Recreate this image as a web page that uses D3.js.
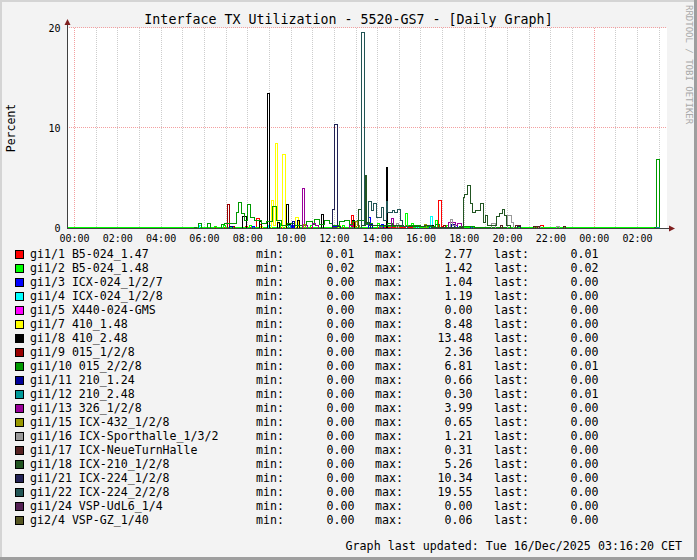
<!DOCTYPE html>
<html><head><meta charset="utf-8">
<script src="https://cdn.jsdelivr.net/npm/d3@7/dist/d3.min.js"></script>
<style>
body{margin:0;background:#f3f3f3}
svg{display:block}
text{font-family:"DejaVu Sans Mono",monospace;fill:#000}
</style>
</head><body>
<svg id="c" width="697" height="560"></svg>
<script>
// ---------------- DATA ----------------
const title = "Interface TX Utilization - 5520-GS7 - [Daily Graph]";
const yLabel = "Percent";
const footer = "Graph last updated: Tue 16/Dec/2025 03:16:20 CET";
const watermark = "RRDTOOL / TOBI OETIKER";

// hours since 00:00 of 15/Dec
const timeStart = -0.323, timeEnd = 27.385, dataEnd = 27.05;
const xTickHours = [0,2,4,6,8,10,12,14,16,18,20,22,24,26];
const xMinorHours = d3.range(0, 28, 1);
const xMajorHours = [0, 24];
const yTicks = [0, 10, 20];

const names = ["gi1/1 B5-024_1.47","gi1/2 B5-024_1.48","gi1/3 ICX-024_1/2/7","gi1/4 ICX-024_1/2/8",
  "gi1/5 X440-024-GMS","gi1/7 410_1.48","gi1/8 410_2.48","gi1/9 015_1/2/8","gi1/10 015_2/2/8",
  "gi1/11 210_1.24","gi1/12 210_2.48","gi1/13 326_1/2/8","gi1/15 ICX-432_1/2/8",
  "gi1/16 ICX-Sporthalle_1/3/2","gi1/17 ICX-NeueTurnHalle","gi1/18 ICX-210_1/2/8",
  "gi1/21 ICX-224_1/2/8","gi1/22 ICX-224_2/2/8","gi1/24 VSP-UdL6_1/4","gi2/4 VSP-GZ_1/40"];
const mins  = [0.01,0.02,0,0,0,0,0,0,0,0,0,0,0,0,0,0,0,0,0,0];
const maxs  = [2.77,1.42,1.04,1.19,0.00,8.48,13.48,2.36,6.81,0.66,0.30,3.99,0.65,1.21,0.31,5.26,10.34,19.55,0.00,0.06];
const lasts = [0.01,0.02,0,0,0,0,0,0,0.01,0,0.01,0,0,0,0,0,0,0,0,0];

// series: [hour, value] change points (step after)
const gi1_1 = [[-0.32,0.01],[7.9,0.2],[8.0,0.01],[8.45,1.0],[8.58,0.4],[8.68,0.01],[12.83,1.3],[12.92,0.2],[13.05,0.01],[15.3,0.3],[15.4,0.01],[16.85,2.77],[16.95,0.2],[17.05,0.01],[21.55,0.3],[21.7,0.1],[21.8,0.01]];
const gi1_2 = [[-0.32,0.02],[6.5,0.2],[6.6,0.02],[6.9,0.3],[7.0,0.02],[8.1,0.3],[8.2,0.02],[9.55,0.5],[9.65,0.02],[10.9,0.3],[11.0,0.02],[12.4,0.3],[12.5,0.02],[14.0,0.5],[14.1,0.2],[15.3,1.42],[15.4,0.3],[15.6,0.5],[15.7,0.02],[16.7,0.8],[16.8,0.02],[17.2,0.3],[17.3,0.02]];
const gi1_3 = [[-0.32,0],[8.25,0.2],[8.35,0],[10.05,0.3],[10.15,0],[12.0,0.2],[12.1,0],[13.62,1.04],[13.7,0],[14.2,0.4],[14.3,0],[16.4,0.3],[16.5,0],[17.6,0.3],[17.7,0],[18.3,0.2],[18.4,0]];
const gi1_4 = [[-0.32,0],[5.8,0.3],[5.9,0],[9.0,0.3],[9.1,0],[15.8,0.2],[15.9,0],[16.45,1.19],[16.55,0.2],[16.65,0]];
const gi1_5 = [[-0.32,0]];
const gi1_7 = [[-0.32,0],[8.6,0.2],[8.7,0],[9.14,2.8],[9.23,0.3],[9.32,8.48],[9.41,0.5],[9.5,0],[9.64,7.4],[9.77,0],[10.25,1.1],[10.35,0],[12.2,0.3],[12.3,0]];
const gi1_8 = [[-0.32,0],[7.8,1.2],[7.95,0],[8.55,0.7],[8.65,0],[8.95,13.48],[9.05,0],[9.4,0.6],[9.5,0],[9.8,2.4],[9.9,0.4],[10.0,0],[10.3,0.8],[10.4,0],[11.44,1.4],[11.54,0],[12.87,0.8],[12.97,0],[14.41,6.1],[14.5,0],[16.5,0.3],[16.6,0]];
const gi1_9 = [[-0.32,0],[7.1,2.36],[7.2,0.2],[7.4,0],[17.05,0.3],[17.15,0],[21.3,0.2],[21.4,0]];
const gi1_10 = [[-0.32,0],[5.55,0.1],[5.65,0],[5.77,0.5],[5.87,0],[6.18,0.5],[6.32,0],[6.83,0.4],[6.97,0.5],[7.52,1.6],[7.61,2.6],[7.75,1.5],[7.89,0.8],[8.03,2.4],[8.17,1.1],[8.35,0.8],[8.68,0.5],[8.91,0.7],[9.18,2.2],[9.37,0.8],[9.6,0.3],[9.88,0.5],[10.2,0.3],[10.75,0.7],[11.03,0.4],[11.12,0.9],[11.35,0.4],[11.58,0.8],[11.81,0.5],[11.95,0.3],[12.28,0.7],[12.51,0.8],[12.74,0.4],[12.87,0.7],[13.11,0.8],[13.43,0.5],[13.8,0.3],[14.5,0.5],[14.7,0.2],[15.5,0.3],[16.0,0.2],[16.7,0.4],[16.9,0.1],[17.8,0.2],[18.5,0.1],[20.0,0],[26.8,0.1],[26.9,6.81],[27.04,0.01]];
const gi1_11 = [[-0.32,0],[7.2,0.2],[7.3,0],[10.1,0.66],[10.2,0],[13.7,0.4],[13.8,0],[17.45,0.4],[17.55,0]];
const gi1_12 = [[-0.32,0],[9.9,0.3],[10.0,0],[14.1,0.2],[14.2,0],[26.9,0.01]];
const gi1_13 = [[-0.32,0],[10.55,3.99],[10.65,0.3],[10.8,0],[11.0,0.5],[11.15,0.3],[11.3,0],[12.7,0.3],[12.85,0],[14.65,1.0],[14.75,0.3],[15.0,0],[17.3,0.6],[17.6,0.3],[17.7,0.5],[17.9,0]];
const gi1_15 = [[-0.32,0],[10.6,0.4],[10.7,0],[13.0,0.65],[13.1,0.3],[13.2,0],[14.9,0.5],[15.0,0],[16.2,0.4],[16.3,0]];
const gi1_16 = [[-0.32,0],[14.9,0.5],[15.0,0],[17.4,0.9],[17.5,0.3],[17.6,0],[19.3,0.5],[19.45,0],[20.0,1.21],[20.2,0.6],[20.3,0],[21.45,0.2],[21.55,0],[22.3,0.2],[22.4,0]];
const gi1_17 = [[-0.32,0],[19.7,0.3],[19.8,0],[20.4,0.3],[20.6,0],[21.2,0.2],[21.5,0],[22.6,0.2],[22.7,0]];
const gi1_18 = [[-0.32,0],[13.15,1.9],[13.3,0.3],[13.44,5.26],[13.53,0.6],[13.65,0.3],[15.2,0.2],[16.2,0.3],[16.5,0.1],[18.0,3.1],[18.05,3.4],[18.15,4.3],[18.3,2.5],[18.4,1.6],[18.55,1.8],[18.75,2.5],[18.9,0.6],[19.0,1.3],[19.1,0.3],[19.5,1.2],[19.65,1.5],[19.8,1.9],[19.9,1.3],[19.98,0.3],[20.15,0]];
const gi1_21 = [[-0.32,0],[11.95,1.9],[12.05,10.34],[12.15,0.2],[12.3,0],[20.5,0.2],[20.6,0]];
const gi1_22 = [[-0.32,0],[13.3,19.55],[13.4,0.4],[13.58,2.7],[13.72,1.8],[13.85,2.5],[13.99,1.1],[14.18,2.1],[14.27,0.8],[14.41,2.7],[14.5,1.6],[14.69,1.8],[14.82,1.6],[14.92,1.9],[15.06,0.8],[15.15,0.2],[15.4,0]];
const gi1_24 = [[-0.32,0]];
const gi2_4 = [[-0.32,0],[12.0,0.06],[12.1,0]];

const seriesData = [gi1_1,gi1_2,gi1_3,gi1_4,gi1_5,gi1_7,gi1_8,gi1_9,gi1_10,gi1_11,gi1_12,gi1_13,gi1_15,gi1_16,gi1_17,gi1_18,gi1_21,gi1_22,gi1_24,gi2_4];

// ---------------- STYLE ----------------
const colors = ["#ff0000","#00ff00","#0000ff","#00ffff","#ff00ff","#ffff00","#000000","#990000","#009900",
  "#000099","#009999","#990099","#999900","#999999","#552222","#225522","#222255","#225555","#552255","#555522"];

const W = 697, H = 560;
const plot = {l:67, r:667, t:28, b:228};

const svg = d3.select("#c");
svg.append("rect").attr("width",W).attr("height",H).attr("fill","#f3f3f3");
// 3D frame
svg.append("path").attr("d",`M0,0H${W}V2H2V${H}H0Z`).attr("fill","#d4d4d4");
svg.append("path").attr("d",`M${W},0V${H}H0V${H-3}H${W-3}V0Z`).attr("fill","#9e9e9e");

const x = d3.scaleLinear().domain([timeStart,timeEnd]).range([plot.l,plot.r]);
const y = d3.scaleLinear().domain([0,20]).range([plot.b,plot.t]);

svg.append("rect").attr("x",plot.l).attr("y",plot.t).attr("width",plot.r-plot.l).attr("height",plot.b-plot.t).attr("fill","#fff");

const snap = v => Math.round(v) + 0.5;
const grid = svg.append("g").attr("shape-rendering","crispEdges");
grid.selectAll("line.vmin").data(xMinorHours.filter(h => !xMajorHours.includes(h))).join("line")
  .attr("x1",d=>snap(x(d))).attr("x2",d=>snap(x(d))).attr("y1",plot.t).attr("y2",plot.b)
  .attr("stroke","#cdcdcd").attr("stroke-dasharray","1,1");
grid.selectAll("line.vmaj").data(xMajorHours).join("line")
  .attr("x1",d=>snap(x(d))).attr("x2",d=>snap(x(d))).attr("y1",plot.t).attr("y2",plot.b)
  .attr("stroke","#f3a0a0").attr("stroke-dasharray","1,1");
grid.selectAll("line.hmaj").data(yTicks.filter(d=>d>0)).join("line")
  .attr("x1",plot.l).attr("x2",plot.r).attr("y1",d=>snap(y(d))-1).attr("y2",d=>snap(y(d))-1)
  .attr("stroke","#f3a0a0").attr("stroke-dasharray","1,1");

// series lines
const line = d3.line().x(d=>x(d[0])).y(d=>y(d[1])).curve(d3.curveStepAfter);
const lines = svg.append("g").attr("fill","none").attr("shape-rendering","crispEdges");
seriesData.forEach((s,i) => {
  const pts = s.slice();
  pts.push([dataEnd, pts[pts.length-1][1]]);
  lines.append("path").attr("d", line(pts)).attr("stroke", colors[i]).attr("stroke-width",1);
});

// axes
const ax = svg.append("g");
ax.append("line").attr("x1",plot.l+0.5).attr("x2",plot.l+0.5).attr("y1",plot.b).attr("y2",plot.t-6)
  .attr("stroke","#404040").attr("shape-rendering","crispEdges");
ax.append("line").attr("x1",plot.l).attr("x2",plot.r+4).attr("y1",plot.b+0.5).attr("y2",plot.b+0.5)
  .attr("stroke","#404040").attr("shape-rendering","crispEdges");
ax.append("path").attr("d",`M${plot.l+0.5},${plot.t-9}L${plot.l-2.5},${plot.t-3}L${plot.l+3.5},${plot.t-3}Z`).attr("fill","#7f1f1f");
ax.append("path").attr("d",`M${plot.r+8},${plot.b+0.5}L${plot.r+2},${plot.b-2.5}L${plot.r+2},${plot.b+3.5}Z`).attr("fill","#7f1f1f");

const xAxis = d3.axisBottom(x).tickValues(xTickHours).tickSize(0)
  .tickFormat(h => String(h%24).padStart(2,"0") + ":00");
const gx = svg.append("g").attr("transform",`translate(0,${plot.b})`).call(xAxis);
gx.select(".domain").remove();
gx.selectAll("text").attr("dy",null).attr("y",13.5).attr("font-size","10px").attr("font-family","DejaVu Sans Mono").attr("fill","#000");

const yAxis = d3.axisLeft(y).tickValues(yTicks).tickSize(0).tickFormat(d3.format("d"));
const gy = svg.append("g").attr("transform",`translate(${plot.l},0)`).call(yAxis);
gy.select(".domain").remove();
gy.selectAll("text").attr("x",-6.5).attr("dy","0.35em").attr("font-size","10px").attr("font-family","DejaVu Sans Mono").attr("fill","#000");

svg.append("text").attr("x",348.5).attr("y",23.5).attr("text-anchor","middle").attr("font-size","13.3px").text(title);
svg.append("text").attr("transform","translate(15,128) rotate(-90)").attr("text-anchor","middle").attr("font-size","11.5px").text(yLabel);
svg.append("text").attr("transform","translate(685.5,5) rotate(90)").attr("font-size","9px").style("fill","#a9a9a9").text(watermark);

const fmt = d3.format(".2f");
const lg = svg.append("g").attr("font-size","11.6px");
names.forEach((n,i) => {
  const by = 258 + 14*i;
  lg.append("rect").attr("x",15.5).attr("y",by-7.5).attr("width",8).attr("height",8)
    .attr("fill",colors[i]).attr("stroke","#000").attr("shape-rendering","crispEdges");
  lg.append("text").attr("x",30).attr("y",by).text(n);
  lg.append("text").attr("x",256).attr("y",by).text("min:");
  lg.append("text").attr("x",354.5).attr("y",by).attr("text-anchor","end").text(fmt(mins[i]));
  lg.append("text").attr("x",375).attr("y",by).text("max:");
  lg.append("text").attr("x",472.5).attr("y",by).attr("text-anchor","end").text(fmt(maxs[i]));
  lg.append("text").attr("x",494).attr("y",by).text("last:");
  lg.append("text").attr("x",598.5).attr("y",by).attr("text-anchor","end").text(fmt(lasts[i]));
});

svg.append("text").attr("x",682).attr("y",550).attr("text-anchor","end").attr("font-size","11.65px").text(footer);
</script>
</body></html>
